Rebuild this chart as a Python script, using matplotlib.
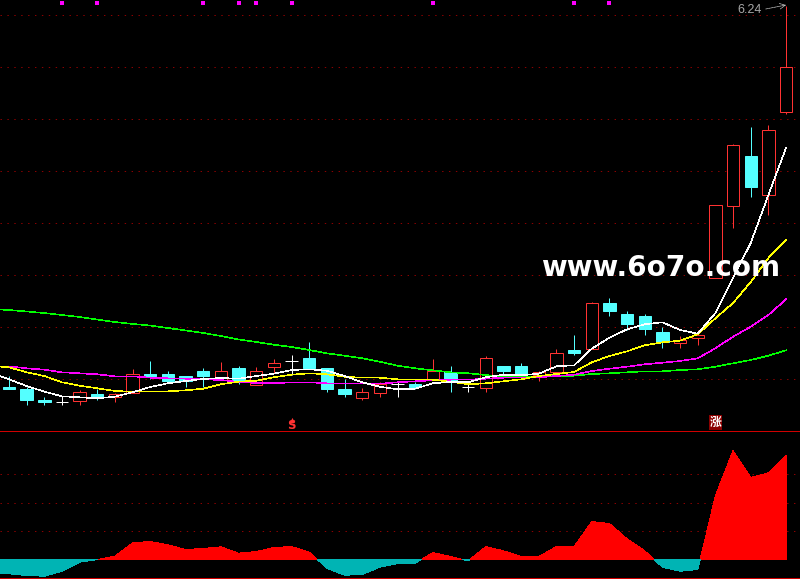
import matplotlib
matplotlib.use("Agg")
import matplotlib.pyplot as plt
import numpy as np

# all prices are chart heights above the bottom of the candle panel
opens = [43, 41, 30, 28, 29, 36, 33, 37, 56, 56, 54, 59, 50, 62, 45, 63, 69, 72, 62, 41, 32, 37, 46,
         46, 50, 58, 43, 42, 64, 64, 55, 58, 80, 81, 127, 116, 114, 98, 87, 92, 152, 224, 274, 235, 318]
closes = [41, 30, 28, 28, 38, 33, 36, 56, 54, 49, 49, 54, 59, 49, 59, 67, 69, 62, 41, 36, 38, 46, 46,
          43, 59, 48, 43, 72, 59, 54, 58, 77, 77, 127, 119, 106, 101, 88, 90, 95, 225, 285, 243, 300, 363]
highs = [54, 43, 33, 34, 40, 41, 37, 61, 69, 59, 54, 62, 68, 64, 63, 71, 75, 88, 62, 51, 42, 48, 49,
         48, 71, 64, 48, 74, 64, 67, 59, 81, 95, 128, 132, 119, 116, 103, 94, 100, 225, 286, 303, 305, 424]
lows = [41, 25, 25, 25, 25, 30, 28, 37, 51, 49, 43, 43, 50, 46, 45, 57, 55, 62, 38, 33, 30, 33, 33,
        41, 50, 38, 38, 38, 54, 54, 49, 56, 75, 81, 114, 100, 95, 82, 82, 85, 152, 202, 233, 215, 316]

# moving averages start one bar left of the visible window
ma_white = [57, 50.7, 44, 38.3, 33.7, 32.7, 31.7, 33.3, 37.7, 43, 46.7, 49, 51, 52, 51.3, 54, 56.3, 60, 60.7,
            59.3, 54, 47.7, 43.3, 40.7, 41.3, 46.7, 48, 47.7, 52.7, 55.3, 54.7, 56.3, 63.7, 64.7, 81.3, 92.3,
            100.7, 105.7, 107.7, 100, 96.3, 117, 152, 187, 235, 282]
ma_yellow = [64, 62.7, 57.7, 54, 47.7, 44.3, 41.7, 39, 38.3, 38.7, 38.7, 39.7, 41.3, 45.7, 48.3, 49.3, 52.7, 55.3,
             56.7, 55.7, 53.3, 52.3, 52.3, 50.7, 50.7, 50.3, 48.3, 45.7, 46.7, 48.7, 50.7, 54, 56, 58, 67.7, 74,
             78.7, 84.7, 87.7, 89.3, 95.7, 111.7, 127, 148, 172, 190]
ma_magenta = [63.7, 63.7, 61.7, 60.3, 57.7, 56.7, 55.7, 53.7, 53.7, 52.3, 51.7, 51.3, 50.7, 50, 48, 47, 46.7, 47.7,
              47.7, 46.7, 46.3, 46.3, 46.3, 47.7, 48.7, 49.7, 50.3, 50.3, 51.3, 52.3, 52.7, 52.7, 54, 55.3, 59,
              61.3, 63.3, 65.7, 67.3, 69, 71.7, 81.7, 93.3, 103.3, 115, 130.7]
ma_green = [121, 120, 118.5, 117, 115, 113, 110.5, 108, 106, 104.5, 102, 99.5, 97, 94, 90.5, 88, 85.3, 83, 80,
            76.7, 74.3, 71.7, 68.3, 64.3, 61.7, 59.7, 57.7, 56.7, 55, 53.3, 53.3, 53.3, 54, 54.3, 56, 56.7,
            57.7, 58.7, 58.7, 60, 60.7, 63.3, 66.7, 70, 74.3, 79.7]

# lower panel oscillator, same bar positions as the moving averages
osc = [-12.7, -14.3, -16, -16.7, -11.7, -2.7, 0, 3.3, 16.7, 18, 14.7, 10, 11, 12.7, 6.3, 8, 12, 13, 7.3, -8.7,
       -15.7, -15, -7.7, -4, -3.7, 7, 3, -1.3, 13, 8.7, 3, 3, 13, 13, 38, 36, 20.7, 8.7, -7.7, -11.7, -10, 64,
       109, 82, 86.7, 104]

signal_bars = [3, 5, 11, 13, 14, 16, 24, 32, 34]
price_grid = [415, 363, 311, 259, 207, 155, 103, 51]
osc_grid = [85.5, 56.5, 28.5]
last_high_label = "6.24"
watermark = "www.6o7o.com"

RED = "#ff3232"
CYAN = "#54ffff"
GRID = "#8c0000"
PANEL_LINE = "#d00000"
LW = 0.72  # one pixel at 100 dpi, snapped for the straight lines
MA_LW = 0.42  # aliased sloped lines come out fatter, so go thinner

fig = plt.figure(figsize=(8, 5.79), dpi=100, facecolor="black")
ax = fig.add_axes([0, 149 / 579, 1, 430 / 579], facecolor="black")
ax2 = fig.add_axes([0, 0, 1, 149 / 579], facecolor="black")

bar_step = 17.66
xlim = (-9 / bar_step, 791 / bar_step)
for a in (ax, ax2):
    a.set_xlim(*xlim)
    a.axis("off")
ax.set_ylim(0, 430)
ax2.set_ylim(-19.5, 129.5)

# dotted grid
for val in price_grid:
    ax.plot(xlim, [val, val], color=GRID, lw=LW, dashes=(1.4, 5.5), zorder=1)
for val in osc_grid:
    ax2.plot(xlim, [val, val], color=GRID, lw=LW, dashes=(1.4, 5.5), zorder=1)

# candles
bars = np.arange(len(opens))
body_w = 0.7
for i in bars:
    o, c, h, l = opens[i], closes[i], highs[i], lows[i]
    col = RED if c > o else CYAN if c < o else "white"
    ax.vlines(i, l, h, color=col, lw=LW, zorder=2)
    if c == o:
        ax.hlines(c, i - body_w / 2, i + body_w / 2, color=col, lw=LW, zorder=3)
    elif c > o:
        ax.bar(i, c - o, bottom=o, width=body_w, facecolor="black", edgecolor=col, lw=LW, zorder=3)
    else:
        ax.bar(i, o - c, bottom=c, width=body_w, facecolor=col, edgecolor=col, lw=LW, zorder=3)

ma_x = np.arange(-1, len(opens))
for vals, col in [(ma_green, "#00ff00"), (ma_magenta, "#ff00ff"), (ma_yellow, "#ffff00"), (ma_white, "white")]:
    ax.plot(ma_x, vals, color=col, lw=MA_LW, antialiased=False, zorder=4)

# signal squares along the top
ax.scatter(signal_bars, [427] * len(signal_bars), marker="s", s=9, color="#ff00ff", linewidths=0, zorder=5)

# latest high label with arrow
ax.text(41.95, 420, last_high_label, color="#a8a8a8", fontsize=9, family="Liberation Sans",
        ha="center", va="center", zorder=6)
ax.annotate("", xy=(44, 425), xytext=(42.85, 421),
            arrowprops=dict(arrowstyle="->", color="#c8c8c8", lw=0.5, ls=(0, (3, 1)), shrinkA=0, shrinkB=0),
            zorder=6)

ax.text(36.9, 162, watermark, color="white", fontsize=20.1, fontweight="bold", family="DejaVu Sans",
        ha="center", va="center", zorder=7)

# buy marker and rise marker just above the panel divider
ax.text(16, 4.5, "S", color=RED, fontsize=8.5, fontweight="bold", ha="center", va="center", zorder=6)
ax.scatter([16], [10.5], marker="^", s=14, color=RED, linewidths=0, zorder=6)
ax.text(40, 7.5, "涨", color="white", fontsize=8.5, fontweight="bold", family=["Noto Sans CJK SC", "DejaVu Sans"],
        ha="center", va="center", zorder=6,
        bbox=dict(boxstyle="square,pad=0.05", facecolor="#8b0000", edgecolor="none"))

# oscillator
osc_arr = np.array(osc)
ax2.fill_between(ma_x, 0, osc_arr, where=osc_arr >= 0, interpolate=True, color="#ff0000", lw=0,
                 antialiased=False, zorder=3)
ax2.fill_between(ma_x, 0, osc_arr, where=osc_arr <= 0, interpolate=True, color="#00b4b4", lw=0,
                 antialiased=False, zorder=3)

ax2.plot(xlim, [129, 129], color=PANEL_LINE, lw=LW, clip_on=False, zorder=5)
ax2.plot(xlim, [-18.5, -18.5], color=PANEL_LINE, lw=LW, clip_on=False, zorder=5)

fig.savefig("out.png", dpi=100, facecolor="black")
plt.close(fig)
